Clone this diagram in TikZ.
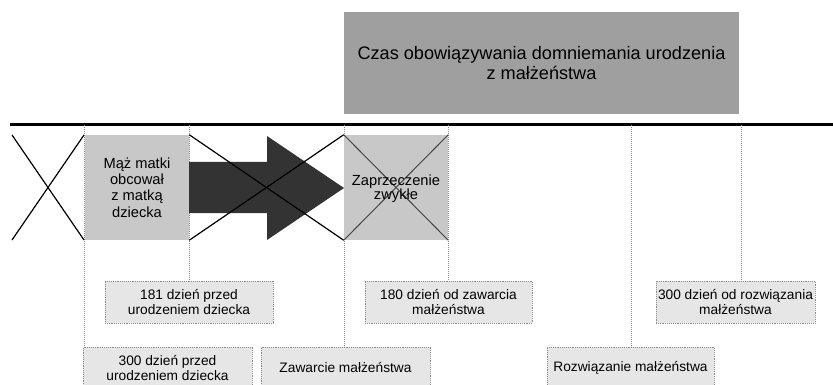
\documentclass[tikz,border=0pt]{standalone}
\usepackage{fontspec}
\setmainfont{Liberation Sans}
\definecolor{topgray}{HTML}{9F9F9F}
\definecolor{midgray}{HTML}{C8C8C8}
\definecolor{lblgray}{HTML}{E6E6E6}
\definecolor{arrowdark}{HTML}{333333}
\definecolor{guidegray}{HTML}{8C8C8C}
\begin{document}
\begin{tikzpicture}[x=0.75pt,y=-0.75pt,
  lbl/.style={draw=guidegray, densely dotted, fill=lblgray, minimum height=31.5pt,
    align=center, inner sep=0pt, font=\fontsize{10.3}{11.4}\selectfont},
  guide/.style={draw=guidegray, densely dotted, line width=0.5pt},
  cross/.style={draw=black, line width=0.9pt},
  box/.style={fill=midgray, draw=none, minimum width=78pt, minimum height=78.75pt, inner sep=0pt, align=center}
]
\path[use as bounding box, clip] (0,0) rectangle (833,385);
\fill[white] (0,0) rectangle (833,385);

% top box
\node[fill=topgray, minimum width=296.25pt, minimum height=76.5pt, inner sep=0pt, align=center,
  font=\fontsize{13.6}{15}\selectfont] (czas) at (541.5,63) {Czas obowiązywania domniemania urodzenia\\z małżeństwa};

% timeline
\coordinate (l0) at (10,124.5);
\coordinate (l1) at (833,124.5);
\draw[line width=1.6pt] (l0) -- (l1);

% guide coordinates
\coordinate (g1) at (84,125);
\coordinate (g2) at (189,125);
\coordinate (g3) at (344,125);
\coordinate (g4) at (448,125);
\coordinate (g5) at (631,125);
\coordinate (g6) at (741,125);

% label boxes
\node[lbl, minimum width=126pt] (b181) at (189,302) {181 dzień przed\\urodzeniem dziecka};
\node[lbl, minimum width=125.25pt] (b180) at (448.5,302) {180 dzień od zawarcia\\małżeństwa};
\node[lbl, minimum width=119.25pt] (b300r) at (735.5,302) {300 dzień od rozwiązania\\małżeństwa};
\node[lbl, minimum width=126.75pt] (b300p) at (167.5,368) {300 dzień przed\\urodzeniem dziecka};
\node[lbl, minimum width=126.75pt] (bzaw) at (345.5,368) {Zawarcie małżeństwa};
\node[lbl, minimum width=125.25pt] (broz) at (630.5,368) {Rozwiązanie małżeństwa};

% guides
\draw[guide] (g1) -- (g1 |- b300p.north);
\draw[guide] (g2) -- (g2 |- b181.north);
\draw[guide] (g3) -- (g3 |- bzaw.north);
\draw[guide] (g4) -- (g4 |- b180.north);
\draw[guide] (g5) -- (g5 |- broz.north);
\draw[guide] (g6) -- (g6 |- b300r.north);

% gray boxes
\node[box, font=\fontsize{11}{12.3}\selectfont] (maz) at (137,187.5) {Mąż matki\\obcował\\z matką\\dziecka};
\node[box] (zap) at (396,187.5) {};

% first cross
\coordinate (c1a) at (12,135);
\coordinate (c1b) at (84,240);
\coordinate (c1c) at (12,240);
\coordinate (c1d) at (84,135);
\draw[cross] (c1a) -- (c1b);
\draw[cross] (c1c) -- (c1d);

% arrow
\fill[arrowdark] (189,162) -- (267,162) -- (267,136) -- (344,188) -- (267,240) -- (267,213) -- (189,213) -- cycle;

% second cross
\draw[cross] (maz.north east) -- (zap.south west);
\draw[cross] (maz.south east) -- (zap.north west);

% third cross (in grey box)
\draw[draw=black!75, line width=0.7pt] (zap.north west) -- (zap.south east);
\draw[draw=black!75, line width=0.7pt] (zap.south west) -- (zap.north east);
\node[font=\fontsize{11}{10.3}\selectfont, align=center] (zaptxt) at (396,189) {Zaprzeczenie\\zwykłe};
\end{tikzpicture}
\end{document}
